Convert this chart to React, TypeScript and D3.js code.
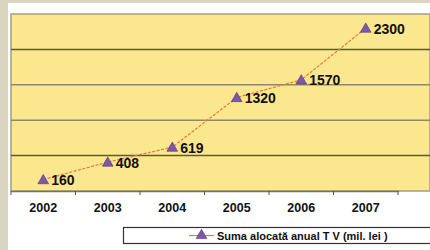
import { useEffect, useRef } from 'react';
import * as d3 from 'd3';

const years = ['2002', '2003', '2004', '2005', '2006', '2007'];
const sums = [160, 408, 619, 1320, 1570, 2300];
const yTicks = [500, 1000, 1500, 2000];
const legendLabel = 'Suma alocată anual T V (mil. lei )';

export default function App() {
  const svgRef = useRef<SVGSVGElement>(null);

  useEffect(() => {
    if (!svgRef.current) return;
    const svg = d3.select(svgRef.current);
    svg.selectAll('*').remove();

    const left = 11;
    const top = 14;
    const bottom = 191;
    const right = 430;

    // beige frame strips
    svg.append('rect').attr('x', 0).attr('y', 0).attr('width', 430).attr('height', 250).attr('fill', '#ffffff');
    svg.append('rect').attr('x', 0).attr('y', 0).attr('width', 8).attr('height', 250).attr('fill', '#d9d5c1');
    svg.append('rect').attr('x', 0).attr('y', 0).attr('width', 430).attr('height', 3).attr('fill', '#d9d5c1');

    const x = d3.scaleBand().domain(years).range([left, 398]);
    const y = d3.scaleLinear().domain([0, 2500]).range([bottom, top]);

    svg.append('rect')
      .attr('x', left).attr('y', top)
      .attr('width', right - left).attr('height', bottom - top)
      .attr('fill', '#fbe78d')
      .attr('stroke', '#a39d80').attr('stroke-width', 1.5);

    svg.append('g').selectAll('line').data(yTicks).join('line')
      .attr('x1', left).attr('x2', right)
      .attr('y1', (d) => y(d)).attr('y2', (d) => y(d))
      .attr('stroke', (d) => (d === 2000 || d === 500 ? '#5c583e' : '#8f896a'))
      .attr('stroke-width', 1.5);

    const axis = svg.append('g').attr('transform', `translate(0,${bottom})`)
      .call(d3.axisBottom(x).tickSize(0).tickPadding(12));
    axis.select('.domain').attr('stroke', '#77735e').attr('stroke-width', 1.5);
    axis.selectAll('text')
      .attr('fill', '#111')
      .style('font-family', 'Arial, "Liberation Sans", sans-serif')
      .style('font-weight', 'bold')
      .style('font-size', '12.5px');

    const bounds = [...years.map((yr) => x(yr)!), 398];
    svg.append('g').selectAll('line').data(bounds).join('line')
      .attr('x1', (d) => d).attr('x2', (d) => d)
      .attr('y1', bottom).attr('y2', bottom + 4)
      .attr('stroke', '#55524a').attr('stroke-width', 1);

    const cx = (d: string) => x(d)! + x.bandwidth() / 2;
    const line = d3.line<number>()
      .x((_, i) => cx(years[i]))
      .y((d) => y(d));

    svg.append('path').datum(sums)
      .attr('fill', 'none')
      .attr('stroke', '#e57a3c')
      .attr('stroke-width', 1.2)
      .attr('stroke-dasharray', '3,1.5')
      .attr('d', line);

    const tri = d3.symbol().type(d3.symbolTriangle).size(50);
    svg.append('g').selectAll('path').data(sums).join('path')
      .attr('transform', (d, i) => `translate(${cx(years[i])},${y(d) + 1})`)
      .attr('d', tri)
      .attr('fill', '#7d58a8')
      .attr('stroke', '#4e3870')
      .attr('stroke-width', 0.6);

    svg.append('g').selectAll('text').data(sums).join('text')
      .attr('x', (_, i) => cx(years[i]) + 8)
      .attr('y', (d) => y(d) + 5.5)
      .attr('fill', '#111')
      .style('font-family', 'Arial, "Liberation Sans", sans-serif')
      .style('font-weight', 'bold')
      .style('font-size', '14px')
      .text((d) => d);

    // legend
    const lg = svg.append('g');
    lg.append('rect')
      .attr('x', 123.5).attr('y', 227.5).attr('width', 320).attr('height', 16)
      .attr('fill', '#ffffff').attr('stroke', '#333').attr('stroke-width', 1.2);
    lg.append('line')
      .attr('x1', 189).attr('x2', 214).attr('y1', 235.5).attr('y2', 235.5)
      .attr('stroke', '#e57a3c').attr('stroke-width', 1.2);
    lg.append('path')
      .attr('transform', 'translate(201.5,235.5)')
      .attr('d', tri)
      .attr('fill', '#7d58a8').attr('stroke', '#4e3870').attr('stroke-width', 0.6);
    lg.append('text')
      .attr('x', 217).attr('y', 239.5)
      .attr('fill', '#111')
      .style('font-family', 'Arial, "Liberation Sans", sans-serif')
      .style('font-weight', 'bold')
      .style('font-size', '11px')
      .text(legendLabel);
  }, []);

  return (
    <svg ref={svgRef} width={430} height={250} style={{ position: 'absolute', left: 0, top: 0 }} />
  );
}
